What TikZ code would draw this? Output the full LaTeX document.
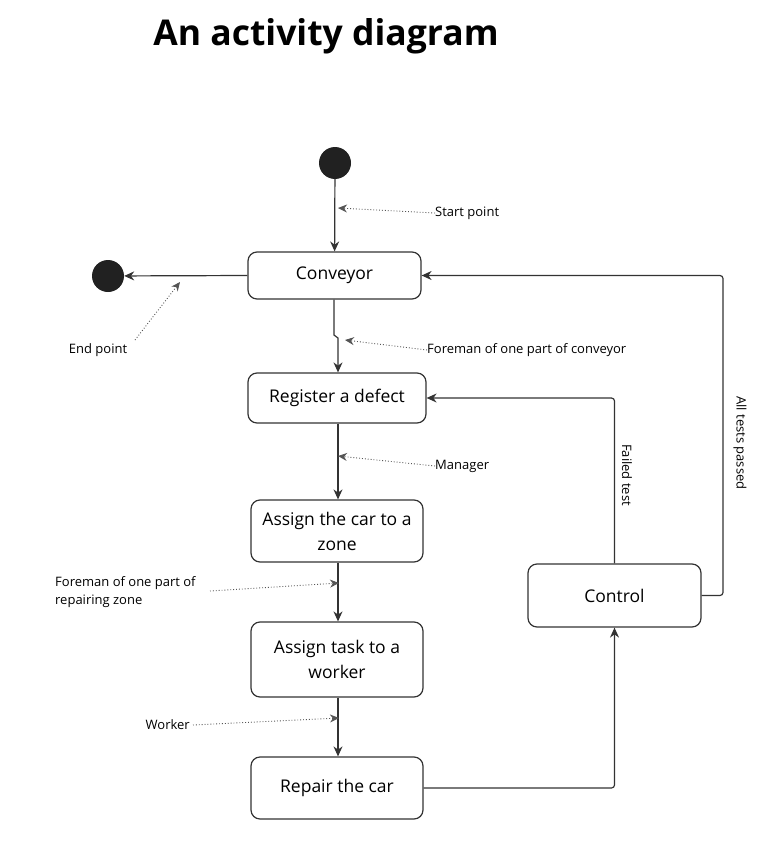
\documentclass[tikz,border=0pt]{standalone}
\usepackage{fontspec}
\setmainfont{Open Sans}
\usetikzlibrary{arrows.meta}
\definecolor{linegray}{HTML}{333333}
\definecolor{dotgray}{HTML}{555555}

\begin{document}
\begin{tikzpicture}[x=1pt,y=-1pt]
	\tikzstyle{node_style} = [draw=linegray,line width=1.2pt,rounded corners=9pt,align=center,inner sep=0pt,font=\fontsize{17.5}{25}\selectfont]
	\tikzstyle{dot_style} = [circle,fill=black!87,minimum size=32pt,inner sep=0pt]
	\tikzstyle{edge_style} = [draw=linegray,line width=1.2pt,-{Stealth[length=10pt,width=9pt]}]
	\tikzstyle{note_style} = [draw=dotgray,line width=0.9pt,dotted,-{Stealth[length=9pt,width=8pt]}]
	\tikzstyle{label_style} = [inner sep=0pt,font=\fontsize{13}{18}\selectfont]
	\useasboundingbox (0,0) rectangle (778,843);
	\node[font=\bfseries\fontsize{35.5}{42}\selectfont] (title) at (326,36) {An activity diagram};
	\node[dot_style] (start) at (335,163) {};
	\node[dot_style] (stop) at (108,276) {};
	\node[node_style,minimum width=173pt,minimum height=47pt] (v1) at (334.5,275.5) {Conveyor};
	\node[node_style,minimum width=178pt,minimum height=50pt] (v2) at (337,398) {Register a defect};
	\node[node_style,minimum width=172pt,minimum height=62pt] (v3) at (337,531) {Assign the car to a\\zone};
	\node[node_style,minimum width=172pt,minimum height=75pt] (v4) at (337,659.5) {Assign task to a\\worker};
	\node[node_style,minimum width=172pt,minimum height=62pt] (v5) at (337,788) {Repair the car};
	\node[node_style,minimum width=173pt,minimum height=63pt] (v6) at (614.5,595.5) {Control};
	\draw[edge_style]  (start) -- (v1);
	\draw[edge_style]  (v1.west) -- (stop);
	\draw[edge_style]  (v1.south -| 334,0) -- (334,335) -- (338,338) -- (v2.north -| 338,0);
	\draw[edge_style]  (v2.south -| 338,0) -- (v3.north -| 338,0);
	\draw[edge_style]  (v3.south -| 338,0) -- (v4.north -| 338,0);
	\draw[edge_style]  (v4.south -| 338,0) -- (v5.north -| 338,0);
	\draw[edge_style,rounded corners=3pt]  (v5.east) -| (v6.south);
	\draw[edge_style,rounded corners=3pt]  (v6.north) |- (v2.east);
	\draw[edge_style,rounded corners=3pt]  (v6.east) -- (723,595.5) |- (v1.east);
	\node[label_style,rotate=-90] (failed) at (627,475) {Failed test};
	\node[label_style,rotate=-90] (passed) at (740,443) {All tests passed};
	% notes pointing at the flows
	\node[label_style,anchor=west] (n1) at (435,213) {Start point};
	\node[label_style] (n2) at (98,350) {End point};
	\node[label_style,anchor=west] (n3) at (427,350) {Foreman of one part of conveyor};
	\node[label_style,anchor=west] (n4) at (435,466) {Manager};
	\node[label_style,anchor=west,align=left] (n5) at (55,592) {Foreman of one part of\\repairing zone};
	\node[label_style,anchor=east] (n6) at (190,725) {Worker};
	\coordinate (t1) at (338,208);
	\coordinate (t2) at (180,282);
	\coordinate (t3) at (345,340);
	\coordinate (t4) at (338,456);
	\coordinate (t5) at (339,583);
	\coordinate (t6) at (339,718);
	\draw[note_style]  (n1.west) -- (t1);
	\draw[note_style]  (135,340) -- (t2);
	\draw[note_style]  (n3.west) -- (t3);
	\draw[note_style]  (n4.west) -- (t4);
	\draw[note_style]  (210,591) -- (t5);
	\draw[note_style]  ([xshift=3pt]n6.east) -- (t6);
\end{tikzpicture}
\end{document}
